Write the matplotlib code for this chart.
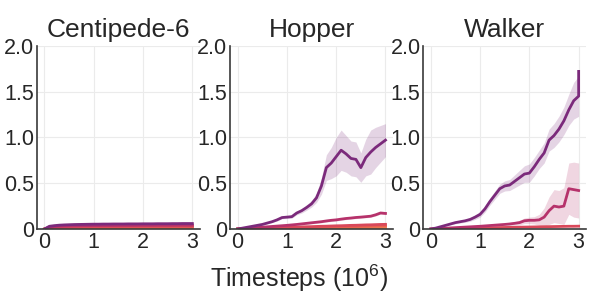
import numpy as np
import matplotlib.pyplot as plt

plt.rcParams['font.family'] = ['Liberation Sans', 'DejaVu Sans']
plt.rcParams['mathtext.fontset'] = 'custom'
plt.rcParams['mathtext.rm'] = 'Liberation Sans'
plt.rcParams['mathtext.it'] = 'Liberation Sans:italic'

# Timesteps (10^6)
steps = np.round(np.arange(0, 3.01, 0.1), 2)
walker_steps = np.append(steps, 3.0)

colors = ['#7b2a7b', '#b6326b', '#d9485a', '#e9634f', '#f08a52']

# Centipede-6: all series flat near zero
cent_mean = [
    [0, 0.03, 0.037, 0.042, 0.045, 0.047, 0.049, 0.05, 0.051, 0.052, 0.053, 0.053, 0.054, 0.054, 0.055, 0.055,
     0.055, 0.056, 0.056, 0.056, 0.057, 0.057, 0.057, 0.058, 0.058, 0.058, 0.059, 0.059, 0.06, 0.06, 0.06],
    [0, 0.022, 0.028, 0.031, 0.033, 0.034, 0.035, 0.036, 0.037, 0.037, 0.038, 0.038, 0.039, 0.039, 0.039, 0.04,
     0.04, 0.04, 0.04, 0.041, 0.041, 0.041, 0.041, 0.042, 0.042, 0.042, 0.042, 0.043, 0.043, 0.043, 0.043],
    [0, 0.016, 0.02, 0.022, 0.024, 0.025, 0.026, 0.026, 0.027, 0.027, 0.028, 0.028, 0.028, 0.029, 0.029, 0.029,
     0.029, 0.03, 0.03, 0.03, 0.03, 0.031, 0.031, 0.031, 0.031, 0.031, 0.032, 0.032, 0.032, 0.032, 0.032],
    [0, 0.01, 0.013, 0.015, 0.016, 0.017, 0.018, 0.018, 0.019, 0.019, 0.019, 0.02, 0.02, 0.02, 0.02, 0.021,
     0.021, 0.021, 0.021, 0.021, 0.022, 0.022, 0.022, 0.022, 0.022, 0.022, 0.023, 0.023, 0.023, 0.023, 0.023],
    [0, 0.005, 0.007, 0.008, 0.009, 0.01, 0.01, 0.011, 0.011, 0.011, 0.012, 0.012, 0.012, 0.012, 0.012, 0.013,
     0.013, 0.013, 0.013, 0.013, 0.013, 0.013, 0.014, 0.014, 0.014, 0.014, 0.014, 0.014, 0.014, 0.014, 0.014],
]
cent_std = [0.008, 0.005, 0.004, 0.003, 0.003]

# Hopper
hop_mean = [
    [0, 0.01, 0.02, 0.03, 0.04, 0.05, 0.065, 0.08, 0.1, 0.125, 0.13, 0.135, 0.175, 0.2, 0.235, 0.275,
     0.34, 0.47, 0.67, 0.72, 0.79, 0.86, 0.82, 0.77, 0.76, 0.67, 0.78, 0.84, 0.89, 0.93, 0.97],
    [0, 0.004, 0.008, 0.012, 0.016, 0.02, 0.024, 0.028, 0.032, 0.036, 0.04, 0.045, 0.05, 0.056, 0.062, 0.068,
     0.074, 0.08, 0.088, 0.095, 0.1, 0.108, 0.115, 0.12, 0.126, 0.13, 0.135, 0.14, 0.155, 0.175, 0.17],
    [0, 0.002, 0.004, 0.006, 0.008, 0.01, 0.012, 0.013, 0.015, 0.016, 0.018, 0.02, 0.021, 0.023, 0.025, 0.026,
     0.028, 0.03, 0.031, 0.033, 0.035, 0.036, 0.038, 0.04, 0.041, 0.043, 0.045, 0.046, 0.048, 0.05, 0.051],
    [0, 0.001, 0.003, 0.004, 0.005, 0.006, 0.008, 0.009, 0.01, 0.011, 0.012, 0.013, 0.014, 0.015, 0.016, 0.018,
     0.019, 0.02, 0.021, 0.022, 0.023, 0.024, 0.025, 0.026, 0.027, 0.028, 0.029, 0.03, 0.031, 0.032, 0.033],
    [0, 0.001, 0.001, 0.002, 0.003, 0.003, 0.004, 0.004, 0.005, 0.005, 0.006, 0.007, 0.007, 0.008, 0.008, 0.009,
     0.009, 0.01, 0.01, 0.011, 0.011, 0.012, 0.012, 0.013, 0.013, 0.014, 0.014, 0.015, 0.015, 0.016, 0.016],
]
hop_std = [
    [0, 0.003, 0.005, 0.006, 0.007, 0.008, 0.009, 0.01, 0.012, 0.013, 0.015, 0.016, 0.02, 0.025, 0.03, 0.035,
     0.05, 0.09, 0.14, 0.17, 0.21, 0.22, 0.2, 0.19, 0.19, 0.16, 0.2, 0.24, 0.22, 0.2, 0.18],
    0.012, 0.006, 0.004, 0.003,
]

# Walker (last point repeated at t=3 for the final jump)
walk_mean = [
    [0, 0.01, 0.025, 0.04, 0.055, 0.07, 0.08, 0.09, 0.105, 0.13, 0.16, 0.22, 0.3, 0.37, 0.44, 0.47,
     0.48, 0.52, 0.56, 0.6, 0.61, 0.68, 0.76, 0.83, 0.97, 1.02, 1.09, 1.18, 1.3, 1.4, 1.45, 1.72],
    [0, 0.003, 0.006, 0.009, 0.012, 0.015, 0.018, 0.021, 0.024, 0.027, 0.03, 0.034, 0.038, 0.042, 0.046, 0.05,
     0.055, 0.062, 0.07, 0.09, 0.095, 0.095, 0.1, 0.13, 0.2, 0.25, 0.24, 0.25, 0.44, 0.43, 0.42, 0.42],
    [0, 0.001, 0.002, 0.004, 0.005, 0.006, 0.008, 0.009, 0.01, 0.011, 0.012, 0.013, 0.014, 0.015, 0.016, 0.017,
     0.018, 0.019, 0.02, 0.021, 0.022, 0.023, 0.024, 0.025, 0.026, 0.027, 0.028, 0.029, 0.03, 0.03, 0.031, 0.031],
]
walk_std = [
    [0, 0.004, 0.006, 0.008, 0.01, 0.012, 0.014, 0.016, 0.02, 0.025, 0.03, 0.035, 0.04, 0.045, 0.05, 0.055,
     0.06, 0.07, 0.08, 0.09, 0.1, 0.1, 0.1, 0.11, 0.12, 0.13, 0.14, 0.15, 0.17, 0.2, 0.22, 0.22],
    [0, 0.002, 0.003, 0.004, 0.005, 0.006, 0.007, 0.008, 0.009, 0.01, 0.011, 0.012, 0.013, 0.014, 0.015, 0.016,
     0.017, 0.02, 0.025, 0.03, 0.035, 0.04, 0.06, 0.1, 0.15, 0.18, 0.18, 0.2, 0.28, 0.3, 0.3, 0.3],
    0.003,
]

titles = ['Centipede-6', 'Hopper', 'Walker']
panels = [
    (steps, cent_mean, cent_std, colors),
    (steps, hop_mean, hop_std, colors),
    (walker_steps, walk_mean, walk_std, [colors[0], colors[1], colors[2]]),
]

fig = plt.figure(figsize=(5.98, 3.07), dpi=100)
lefts = [0.062, 0.385, 0.708]
for i, (x, means, stds, cols) in enumerate(panels):
    ax = fig.add_axes([lefts[i], 0.254, 0.272, 0.597])
    # draw lightest series first so purple ends on top
    for m, s, c in reversed(list(zip(means, stds, cols))):
        m = np.array(m)
        s = np.array(s) if np.ndim(s) else np.full_like(m, s)
        ax.fill_between(x, np.clip(m - s, 0, None), m + s, color=c, alpha=0.2, lw=0)
        ax.plot(x, m, color=c, lw=2)
    ax.set_xlim(-0.15, 3.15)
    ax.set_ylim(0, 2.0)
    ax.set_xticks([0, 1, 2, 3])
    ax.set_yticks([0, 0.5, 1.0, 1.5, 2.0])
    ax.set_yticklabels(['0', '0.5', '1.0', '1.5', '2.0'])
    ax.tick_params(length=0, labelsize=15.5, colors='#262626', pad=2)
    ax.grid(color='#ebebeb', lw=0.8)
    ax.set_axisbelow(True)
    for side in ['top', 'right']:
        ax.spines[side].set_visible(False)
    for side in ['left', 'bottom']:
        ax.spines[side].set_color('#3a3a3a')
        ax.spines[side].set_linewidth(1.2)
    ax.set_title(titles[i], fontsize=19, color='#262626', pad=6)

fig.text(0.5, 0.065, 'Timesteps ($\\mathregular{10^6}$)', ha='center', fontsize=18, color='#262626')
fig.savefig('out.png', dpi=100)
